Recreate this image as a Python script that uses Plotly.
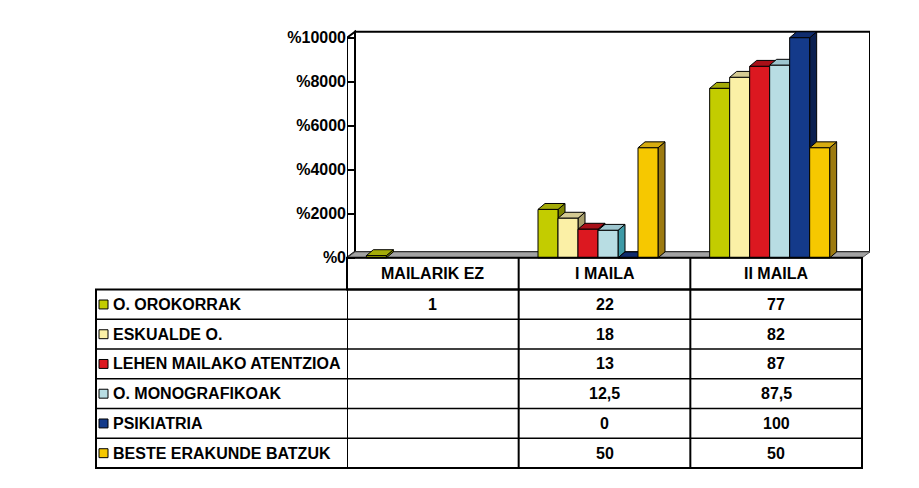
import plotly.graph_objects as go

categories = ["MAILARIK EZ", "I MAILA", "II MAILA"]
series = ["O. OROKORRAK", "ESKUALDE O.", "LEHEN MAILAKO ATENTZIOA",
          "O. MONOGRAFIKOAK", "PSIKIATRIA", "BESTE ERAKUNDE BATZUK"]
values = [
    [1, 22, 77],
    [None, 18, 82],
    [None, 13, 87],
    [None, 12.5, 87.5],
    [None, 0, 100],
    [None, 50, 50],
]
tick_vals = [0, 20, 40, 60, 80, 100]
tick_labels = ["%0", "%2000", "%4000", "%6000", "%8000", "%10000"]

front_colors = ["#c3cc00", "#fbf0a6", "#dc1820", "#b8dde3", "#143a8a", "#f6c800"]
top_colors = ["#a4ab08", "#d4ca92", "#a81018", "#9ec6cf", "#0f2c6e", "#d6ac10"]
side_colors = ["#7c8400", "#a89f6c", "#7a0a10", "#3e9aa6", "#0a1f50", "#9c7a10"]

# the page body has an 8px margin all round, keep the figure inside the window
PAGE_M = 8
W, H = 919 - 2 * PAGE_M, 488 - 2 * PAGE_M
FONT = "Liberation Sans"

# geometry (pixels of the final picture)
X0_PX, X3_PX = 347, 862          # front left / right of floor = table columns
Y0_PX, Y100_PX = 260, 38          # value 0 / value 100 on the front plane
SX = (X3_PX - X0_PX) / 3
SY = (Y0_PX - Y100_PX) / 100
WDX, WDY = 8 / SX, 6 / SY         # wall depth in data units
BDX, BDY = 7 / SX, 6 / SY         # bar depth in data units
BAR_W = 20 / SX
BAR_START = -66.5 / SX

def px(x):
    return (x - PAGE_M) / W

def py(y):
    return 1 - (y - PAGE_M) / H

y_lo, y_hi = -2, 100 + WDY + 1
x_lo, x_hi = -0.5, 2.5 + WDX

fig = go.Figure()
shapes = []

def poly(pts, fill, line="black", width=1, layer="below"):
    path = "M " + " L ".join(f"{x},{y}" for x, y in pts) + " Z"
    return dict(type="path", path=path, xref="x", yref="y", fillcolor=fill,
                line=dict(color=line, width=width), layer=layer)

# walls and floor
shapes.append(poly([(-0.5 + WDX, WDY), (2.5 + WDX, WDY), (2.5 + WDX, 100 + WDY),
                    (-0.5 + WDX, 100 + WDY)], "white", width=2))
shapes.append(poly([(-0.5, 0), (-0.5 + WDX, WDY), (-0.5 + WDX, 100 + WDY),
                    (-0.5, 100)], "white", width=2))
shapes.append(poly([(-0.5, 0), (2.5, 0), (2.5 + WDX, WDY), (-0.5 + WDX, WDY)],
                   "#a3a3a3", line="#555555", width=1))

# bars: front face as bar traces, top and side as paths
for j, name in enumerate(series):
    xs, ys = [], []
    for i, v in enumerate(values[j]):
        if v is None:
            continue
        left = i + BAR_START + j * BAR_W
        right = left + BAR_W
        xs.append(left + BAR_W / 2)
        ys.append(v)
        shapes.append(poly([(right, 0), (right + BDX, BDY), (right + BDX, v + BDY),
                            (right, v)], side_colors[j]))
        shapes.append(poly([(left, v), (right, v), (right + BDX, v + BDY),
                            (left + BDX, v + BDY)], top_colors[j]))
    fig.add_trace(go.Bar(x=xs, y=ys, width=BAR_W, name=name,
                         marker=dict(color=front_colors[j], line=dict(color="black", width=1)),
                         showlegend=False))

# table
TB_TOP, TB_HEAD, ROW_H, TB_LEFT = 260, 292, 30, 96
n_rows = len(series)
tb_bottom = TB_HEAD + ROW_H * n_rows
line_k = dict(color="black", width=2)
shapes.append(dict(type="rect", xref="paper", yref="paper", x0=px(X0_PX), x1=px(X3_PX),
                   y0=py(TB_HEAD), y1=py(TB_TOP), line=line_k, layer="above"))
shapes.append(dict(type="rect", xref="paper", yref="paper", x0=px(TB_LEFT), x1=px(X3_PX),
                   y0=py(tb_bottom), y1=py(TB_HEAD), line=line_k, layer="above"))
for i in range(len(categories)):
    shapes.append(dict(type="line", xref="x", yref="paper", x0=i - 0.5, x1=i - 0.5,
                       y0=py(TB_TOP), y1=py(tb_bottom), line=line_k, layer="above"))
for r in range(1, n_rows):
    yy = py(TB_HEAD + r * ROW_H)
    shapes.append(dict(type="line", xref="paper", yref="paper", x0=px(TB_LEFT), x1=px(X3_PX),
                       y0=yy, y1=yy, line=dict(color="black", width=1.5), layer="above"))

annotations = []
tfont = dict(family=FONT, size=16, color="black", weight="bold")
for i, c in enumerate(categories):
    annotations.append(dict(x=i, y=py((TB_TOP + TB_HEAD) / 2), xref="x", yref="paper",
                            xanchor="center", yanchor="middle",
                            text=c, showarrow=False, font=tfont))
for j, name in enumerate(series):
    yc = TB_HEAD + (j + 0.5) * ROW_H
    shapes.append(dict(type="rect", xref="paper", yref="paper", x0=px(99), x1=px(108),
                       y0=py(yc + 4.5), y1=py(yc - 4.5), fillcolor=front_colors[j],
                       line=dict(color="black", width=1), layer="above"))
    annotations.append(dict(x=px(111), y=py(yc), xref="paper", yref="paper",
                            xanchor="left", yanchor="middle",
                            text=name, showarrow=False, font=tfont))
    for i, v in enumerate(values[j]):
        if v is None:
            continue
        annotations.append(dict(x=i, y=py(yc), xref="x", yref="paper",
                                xanchor="center", yanchor="middle",
                                text=f"{v:g}".replace(".", ","), showarrow=False, font=tfont))

fig.update_layout(
    width=W, height=H, autosize=False,
    margin=dict(l=0, r=0, t=0, b=0),
    paper_bgcolor="white", plot_bgcolor="white",
    barmode="overlay",
    shapes=shapes, annotations=annotations,
    xaxis=dict(domain=[px(X0_PX), px(X3_PX + WDX * SX)], range=[x_lo, x_hi],
               showgrid=False, zeroline=False, showticklabels=False, showline=False, ticks=""),
    yaxis=dict(domain=[py(Y0_PX - y_lo * SY), py(Y0_PX - y_hi * SY)], range=[y_lo, y_hi],
               tickvals=tick_vals, ticktext=tick_labels, ticks="inside", ticklen=8,
               tickcolor="black", tickwidth=1.5, showgrid=False, zeroline=False, showline=False,
               tickfont=dict(family=FONT, size=16, color="black", weight="bold")),
)

fig.write_html("out.html")
